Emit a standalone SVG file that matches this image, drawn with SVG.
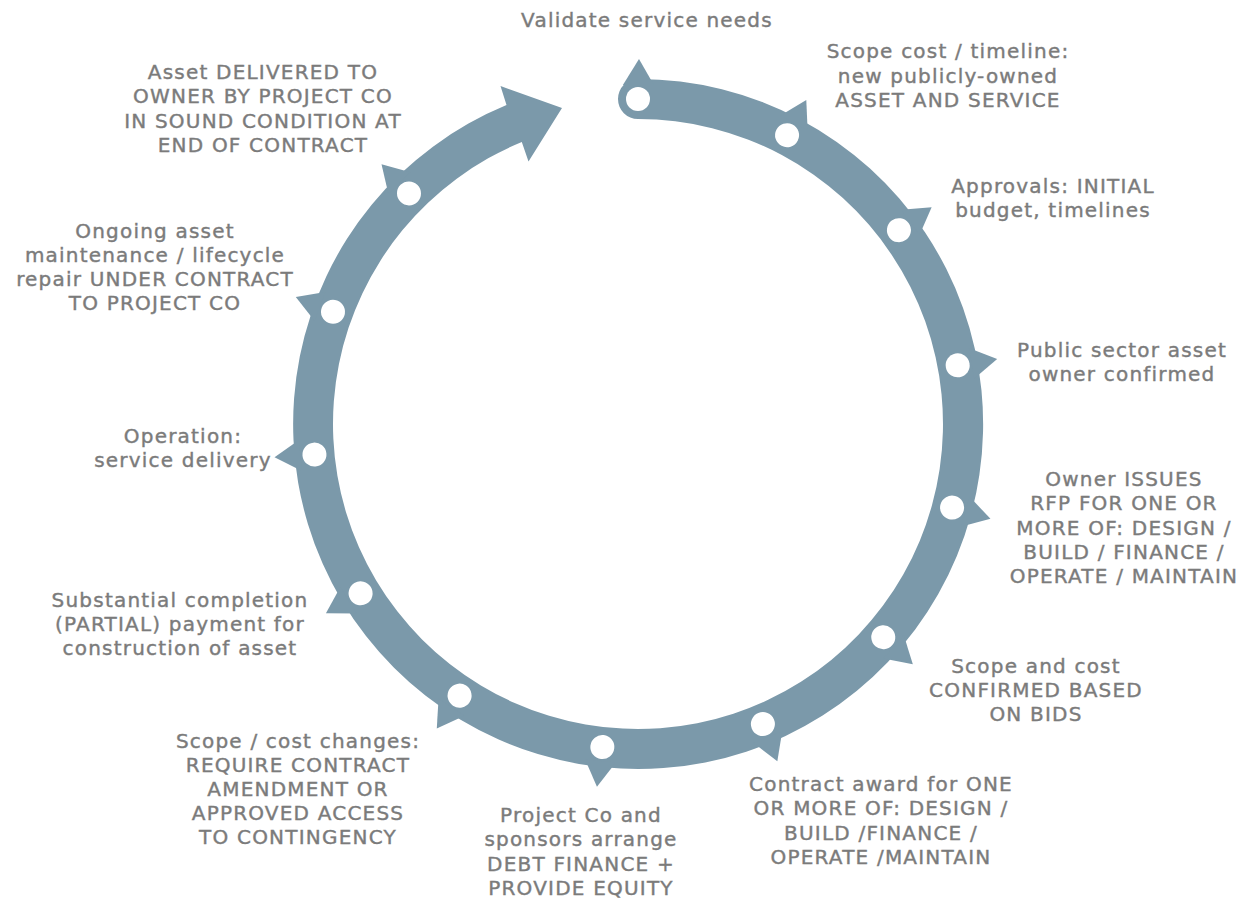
<svg xmlns="http://www.w3.org/2000/svg" xmlns:xlink="http://www.w3.org/1999/xlink" width="1259" height="899" viewBox="0 0 1259 899">
<style>
.lbl{font-family:"DejaVu Sans","Liberation Sans",sans-serif;font-size:20px;letter-spacing:1.2px;fill:#7b7b7b;stroke:#7b7b7b;stroke-width:0.4px;text-anchor:middle}
.ring{fill:#7b99aa}
.ptr{fill:#7b99aa}
.dot{fill:#ffffff}
</style>
<defs>
<polygon id="ptr" class="ptr" points="622.9,85 639,59 653.9,85"/>
<circle id="dot" class="dot" cx="638" cy="99" r="12"/>
</defs>
<rect width="1259" height="899" fill="#ffffff"/>
<g id="connectors">
<path class="ring" d="M 638 79 A 345 345 0 1 1 506.5 105.1 L 500.5 86 L 562 108 L 528.5 161.5 L 521.8 142 A 305 305 0 1 0 638 119 A 20 20 0 0 1 638 79 Z"/>
</g>
<g id="n1"><g transform="rotate(0 638 424)"><use xlink:href="#ptr"/><use xlink:href="#dot"/></g>
<text class="lbl" x="647" y="27">Validate service needs</text></g>
<g id="n2"><g transform="rotate(27.3 638 424)"><use xlink:href="#ptr"/><use xlink:href="#dot"/></g>
<text class="lbl" x="948" y="58"><tspan x="948">Scope cost / timeline:</tspan><tspan x="948" dy="24.5">new publicly-owned</tspan><tspan x="948" dy="24.5">ASSET AND SERVICE</tspan></text></g>
<g id="n3"><g transform="rotate(53.4 638 424)"><use xlink:href="#ptr"/><use xlink:href="#dot"/></g>
<text class="lbl" x="1053" y="193"><tspan x="1053">Approvals: INITIAL</tspan><tspan x="1053" dy="24">budget, timelines</tspan></text></g>
<g id="n4"><g transform="rotate(79.6 638 424)"><use xlink:href="#ptr"/><use xlink:href="#dot"/></g>
<text class="lbl" x="1122" y="357"><tspan x="1122">Public sector asset</tspan><tspan x="1122" dy="24">owner confirmed</tspan></text></g>
<g id="n5"><g transform="rotate(104.9 638 424)"><use xlink:href="#ptr"/><use xlink:href="#dot"/></g>
<text class="lbl" x="1124" y="486"><tspan x="1124">Owner ISSUES</tspan><tspan x="1124" dy="24.3">RFP FOR ONE OR</tspan><tspan x="1124" dy="24.3">MORE OF: DESIGN /</tspan><tspan x="1124" dy="24.3">BUILD / FINANCE /</tspan><tspan x="1124" dy="24.3">OPERATE / MAINTAIN</tspan></text></g>
<g id="n6"><g transform="rotate(131 638 424)"><use xlink:href="#ptr"/><use xlink:href="#dot"/></g>
<text class="lbl" x="1036" y="673"><tspan x="1036">Scope and cost</tspan><tspan x="1036" dy="24">CONFIRMED BASED</tspan><tspan x="1036" dy="24">ON BIDS</tspan></text></g>
<g id="n7"><g transform="rotate(157.4 638 424)"><use xlink:href="#ptr"/><use xlink:href="#dot"/></g>
<text class="lbl" x="881" y="791"><tspan x="881">Contract award for ONE</tspan><tspan x="881" dy="24.3">OR MORE OF: DESIGN /</tspan><tspan x="881" dy="24.3">BUILD /FINANCE /</tspan><tspan x="881" dy="24.3">OPERATE /MAINTAIN</tspan></text></g>
<g id="n8"><g transform="rotate(186.3 638 424)"><use xlink:href="#ptr"/><use xlink:href="#dot"/></g>
<text class="lbl" x="581" y="822"><tspan x="581">Project Co and</tspan><tspan x="581" dy="24.3">sponsors arrange</tspan><tspan x="581" dy="24.3">DEBT FINANCE +</tspan><tspan x="581" dy="24.3">PROVIDE EQUITY</tspan></text></g>
<g id="n9"><g transform="rotate(213.3 638 424)"><use xlink:href="#ptr"/><use xlink:href="#dot"/></g>
<text class="lbl" x="298" y="748"><tspan x="298">Scope / cost changes:</tspan><tspan x="298" dy="24">REQUIRE CONTRACT</tspan><tspan x="298" dy="24">AMENDMENT OR</tspan><tspan x="298" dy="24">APPROVED ACCESS</tspan><tspan x="298" dy="24">TO CONTINGENCY</tspan></text></g>
<g id="n10"><g transform="rotate(238.6 638 424)"><use xlink:href="#ptr"/><use xlink:href="#dot"/></g>
<text class="lbl" x="180" y="607"><tspan x="180">Substantial completion</tspan><tspan x="180" dy="24">(PARTIAL) payment for</tspan><tspan x="180" dy="24">construction of asset</tspan></text></g>
<g id="n11"><g transform="rotate(264.6 638 424)"><use xlink:href="#ptr"/><use xlink:href="#dot"/></g>
<text class="lbl" x="183" y="443"><tspan x="183">Operation:</tspan><tspan x="183" dy="24">service delivery</tspan></text></g>
<g id="n12"><g transform="rotate(290.2 638 424)"><use xlink:href="#ptr"/><use xlink:href="#dot"/></g>
<text class="lbl" x="155" y="238"><tspan x="155">Ongoing asset</tspan><tspan x="155" dy="24">maintenance / lifecycle</tspan><tspan x="155" dy="24">repair UNDER CONTRACT</tspan><tspan x="155" dy="24">TO PROJECT CO</tspan></text></g>
<g id="n13"><g transform="rotate(315.2 638 424)"><use xlink:href="#ptr"/><use xlink:href="#dot"/></g>
<text class="lbl" x="263" y="79"><tspan x="263">Asset DELIVERED TO</tspan><tspan x="263" dy="24.3">OWNER BY PROJECT CO</tspan><tspan x="263" dy="24.3">IN SOUND CONDITION AT</tspan><tspan x="263" dy="24.3">END OF CONTRACT</tspan></text></g>
</svg>
